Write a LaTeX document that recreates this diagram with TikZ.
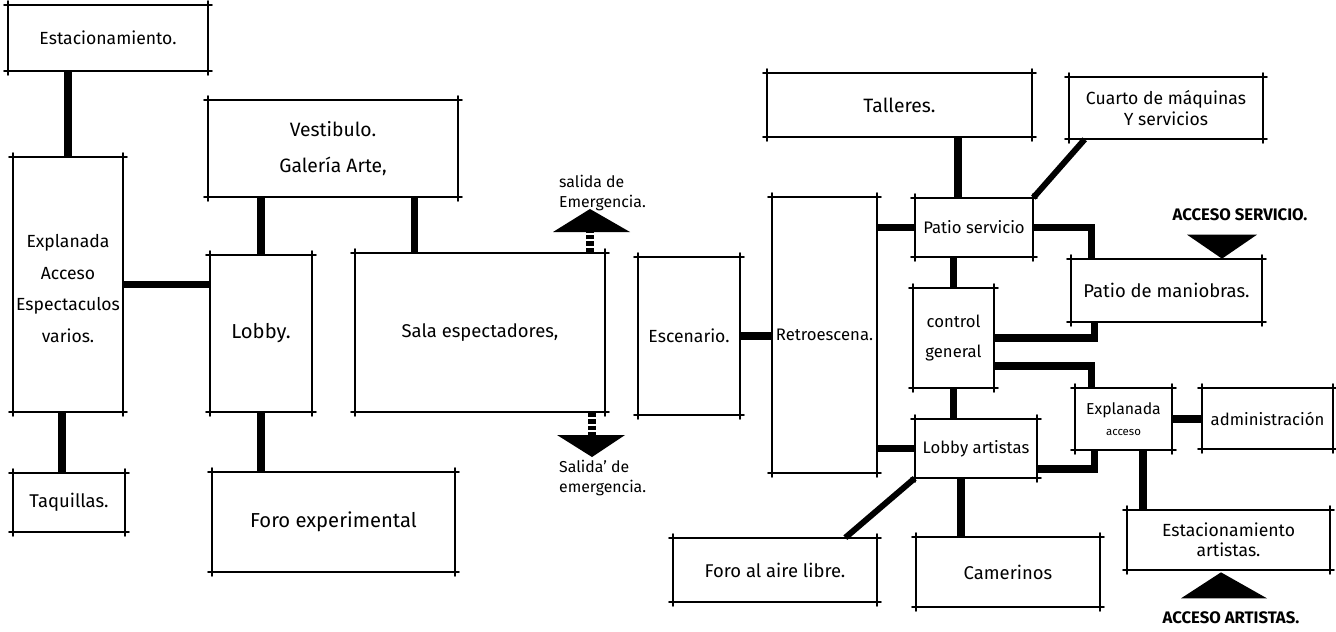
\documentclass[tikz,border=0pt]{standalone}
\usepackage{fontspec}
\setmainfont{Fira Sans}
\tikzset{
  room/.style 2 args={rectangle,inner sep=0pt,minimum width=#1cm,minimum height=#2cm,
    align=center,font=\fontsize{10.5}{17}\selectfont},
  small/.style={font=\fontsize{9.5}{11.5}\selectfont},
  wall/.style={line width=1.1pt,line cap=round},
  link/.style={line width=4pt},
  stem/.style={line width=5pt,dash pattern=on 2.6pt off 1.2pt},
  exit/.style={fill=black},
  tag/.style={font=\fontsize{9}{11}\selectfont,align=left,anchor=west},
  caps/.style={font=\fontsize{9.5}{11}\selectfont\bfseries},
}

\begin{document}
\begin{tikzpicture}[x=0.02cm,y=-0.02cm]
  \useasboundingbox (0,0) rectangle (1336,632);

  % public side
  \node[room={4}{1.32},font=\fontsize{10}{12}\selectfont] (est) at (108,38) {Estacionamiento.};
  \node[room={2.2}{5.1},font=\fontsize{10}{18}\selectfont] (expl) at (68,284.5) {\\[-6pt]Explanada\\Acceso\\Espectaculos\\varios.};
  \node[room={2.24}{1.18}] (taq) at (69,502.5) {Taquillas.};
  \node[room={5}{1.94},font=\fontsize{11}{20}\selectfont] (vest) at (333,148.5) {Vestibulo.\\Galería Arte,};
  \node[room={2.04}{3.14},font=\fontsize{11.5}{14}\selectfont] (lobby) at (261,333.5) {Lobby.};
  \node[room={4.86}{2},font=\fontsize{11.5}{14}\selectfont] (foro) at (333.5,522) {Foro experimental};
  \node[room={5}{3.18},font=\fontsize{10.5}{13}\selectfont] (sala) at (480,332.5) {Sala espectadores,};

  % stage side
  \node[room={2.04}{3.16},font=\fontsize{10}{12}\selectfont] (esc) at (689,336) {Escenario.};
  \node[room={2.1}{5.52},small] (retro) at (824.5,335) {Retroescena.};
  \node[room={5.3}{1.28},font=\fontsize{11}{14}\selectfont] (tall) at (899.5,105) {Talleres.};
  \node[room={3.88}{1.24},font=\fontsize{10}{11.5}\selectfont] (cuarto) at (1166,108) {Cuarto de máquinas\\Y servicios};
  \node[room={2.36}{1.18},small] (patio) at (974,227.5) {Patio servicio};
  \node[room={3.82}{1.26}] (manio) at (1166.5,290.5) {Patio de maniobras.};
  \node[room={1.62}{2},font=\fontsize{9.5}{17}\selectfont] (ctrl) at (953.5,338) {control\\general};
  \node[room={1.94}{1.24},font=\fontsize{9}{12}\selectfont] (expla) at (1123.5,419) {Explanada\\{\fontsize{6.5}{8}\selectfont acceso}};
  \node[room={2.62}{1.22},small] (admin) at (1267.5,418.5) {administración};
  \node[room={2.44}{1.18},small] (lobbyA) at (976,448.5) {Lobby artistas};
  \node[room={4.08}{1.28}] (foroL) at (775,570) {Foro al aire libre.};
  \node[room={3.68}{1.4}] (camer) at (1008,572) {Camerinos};
  \node[room={4.06}{1.2},font=\fontsize{10}{11.5}\selectfont] (estA) at (1228.5,540) {Estacionamiento\\artistas.};

  \foreach \b in {est,expl,taq,vest,lobby,foro,sala,esc,retro,tall,cuarto,patio,manio,ctrl,expla,admin,lobbyA,foroL,camer,estA}
    \draw[wall] ([xshift=-2pt]\b.north west) -- ([xshift=2pt]\b.north east)
                ([xshift=-2pt]\b.south west) -- ([xshift=2pt]\b.south east)
                ([yshift=2pt]\b.north west) -- ([yshift=-2pt]\b.south west)
                ([yshift=2pt]\b.north east) -- ([yshift=-2pt]\b.south east);

  % links, public side
  \draw[link] (expl.north) -- (expl.north |- est.south);
  \draw[link] ([xshift=-0.12cm]expl.south) -- ([xshift=-0.12cm]expl.south |- taq.north);
  \draw[link] (expl.east) -- (expl.east -| lobby.west);
  \draw[link] (lobby.north) -- (lobby.north |- vest.south);
  \draw[link] (lobby.south) -- (lobby.south |- foro.north);
  \draw[link] ([xshift=1.2cm]sala.north west) -- ([xshift=1.2cm]sala.north west |- vest.south);

  % emergency exits
  \coordinate (exitN) at (590,232);
  \coordinate (exitS) at (592,435);
  \draw[stem] (exitN |- sala.north) -- (exitN);
  \fill[exit] (exitN) ++(-37,0) -- ++(37,-23) -- ++(40,23) -- cycle;
  \draw[stem] (exitS |- sala.south) -- (exitS);
  \fill[exit] (exitS) ++(-35,0) -- ++(35,22) -- ++(33,-22) -- cycle;
  \node[tag] (exitNt) at (553,193) {salida de\\Emergencia.};
  \node[tag] (exitSt) at (553,478) {Salida' de\\emergencia.};

  % links, stage side
  \draw[link] (esc.east) -- (esc.east -| retro.west);
  \draw[link] (patio.west) -- (patio.west -| retro.east);
  \draw[link] (lobbyA.west) -- (lobbyA.west -| retro.east);
  \draw[link] ([xshift=-0.32cm]patio.north) -- ([xshift=-0.32cm]patio.north |- tall.south);
  \draw[link,line width=3.4pt] (patio.north east) -- ([xshift=0.32cm]cuarto.south west);
  \draw[link] (patio.east) -| ([xshift=0.42cm]manio.north west);
  \draw[link] (ctrl.north) -- (ctrl.north |- patio.south);
  \draw[link] (ctrl.east) -| ([xshift=0.48cm]manio.south west);
  \draw[link] ([yshift=-0.56cm]ctrl.east) -| ([xshift=0.34cm]expla.north west);
  \draw[link] (ctrl.south) -- (ctrl.south |- lobbyA.north);
  \draw[link] (expla.east) -- (expla.east -| admin.west);
  \draw[link] ([yshift=-0.41cm]lobbyA.east) -| ([xshift=0.4cm]expla.south west);
  \draw[link] ([xshift=0.39cm]expla.south) -- ([xshift=0.39cm]expla.south |- estA.north);
  \draw[link,line width=3.4pt] (lobbyA.south west) -- ([xshift=-0.64cm]foroL.north east);
  \draw[link] ([xshift=-0.3cm]lobbyA.south) -- ([xshift=-0.3cm]lobbyA.south |- camer.north);

  % service and artists access
  \coordinate (accS) at ([xshift=1.11cm]manio.north);
  \fill[exit] (accS) -- ++(-35,-24) -- ++(70,0) -- cycle;
  \node[caps] (accSt) at (1240,215) {ACCESO SERVICIO.};
  \coordinate (accA) at ([xshift=-0.15cm,yshift=-0.04cm]estA.south);
  \fill[exit] (accA) -- ++(-40,26) -- ++(86,0) -- cycle;
  \node[caps] (accAt) at (1231,618) {ACCESO ARTISTAS.};
\end{tikzpicture}
\end{document}
